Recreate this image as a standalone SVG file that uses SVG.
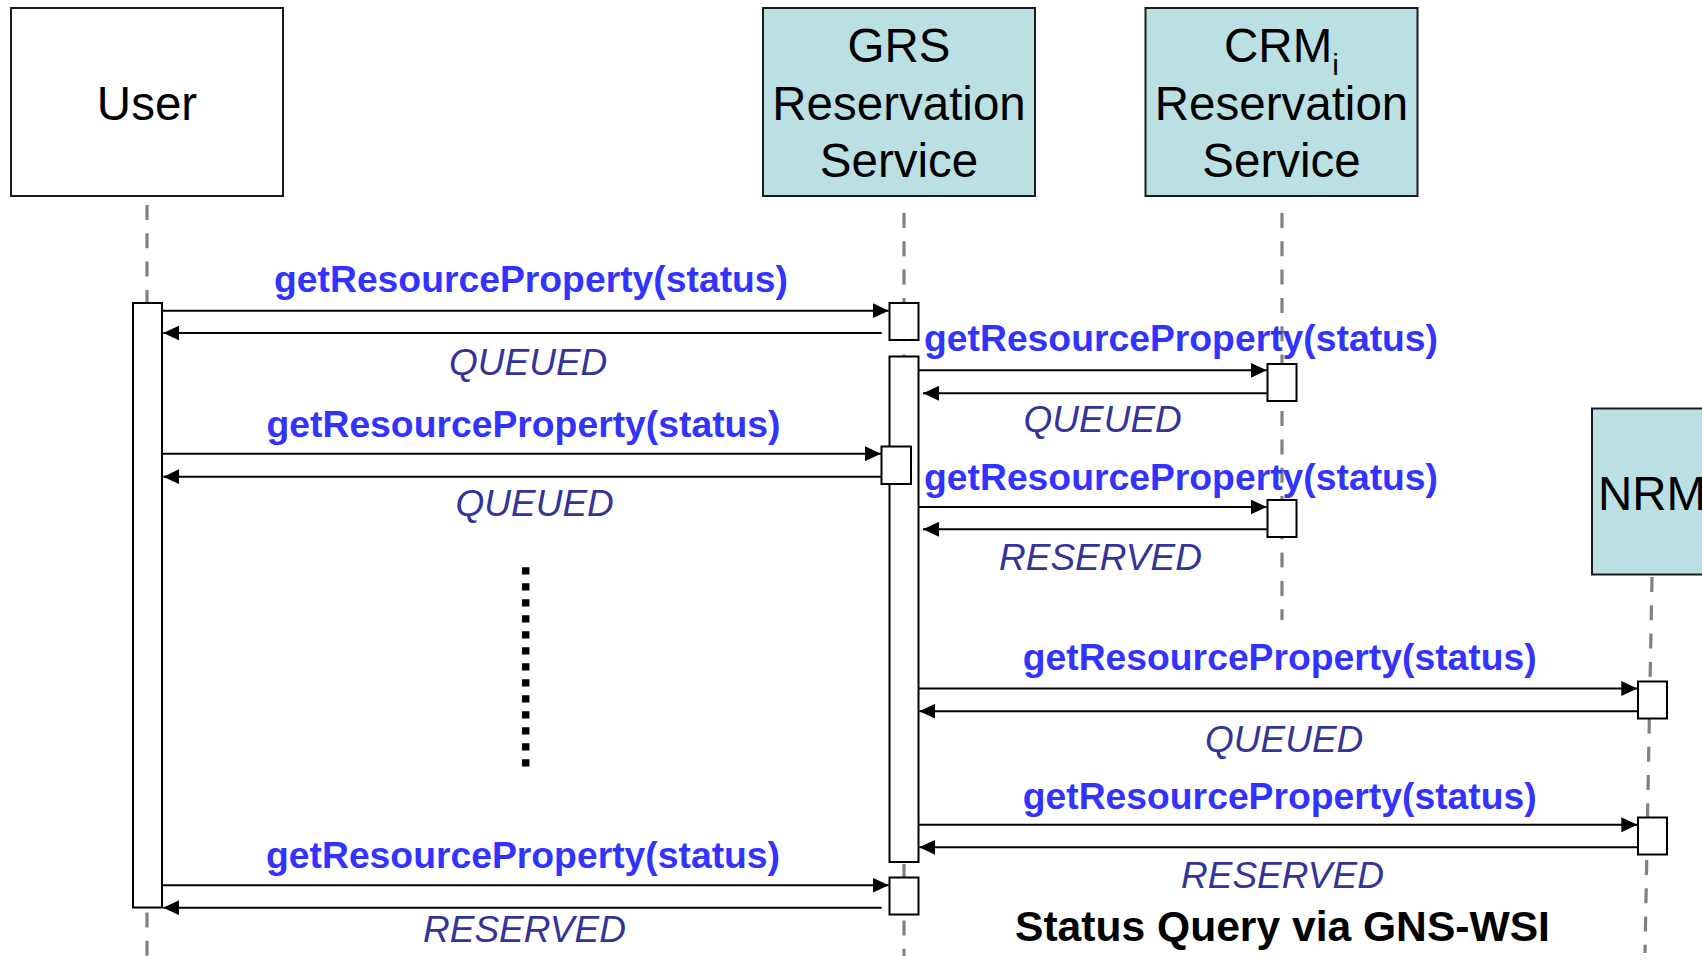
<svg xmlns="http://www.w3.org/2000/svg" width="1702" height="965" viewBox="0 0 1702 965">
<style>
.hdr{fill:#BBE0E3;stroke:#1a1a1a;stroke-width:2}
.usr{fill:#ffffff;stroke:#1a1a1a;stroke-width:2}
.act{fill:#ffffff;stroke:#000000;stroke-width:2}
.life{stroke:#808080;stroke-width:3.2;stroke-dasharray:15 13.3;fill:none}
.msg{stroke:#000000;stroke-width:2;fill:none}
.call{marker-end:url(#ah)}
.ret{marker-end:url(#ah)}
.ht{font-family:"Liberation Sans",Arial,sans-serif;font-size:47.5px;fill:#000000;text-anchor:middle}
.ml{font-family:"Liberation Sans",Arial,sans-serif;font-size:37.3px;font-weight:bold;fill:#3333FF}
.rl{font-family:"Liberation Sans",Arial,sans-serif;font-size:37px;font-style:italic;fill:#333399}
.title{font-family:"Liberation Sans",Arial,sans-serif;font-size:42.6px;font-weight:bold;fill:#000000}
</style>
<defs>
<marker id="ah" markerUnits="userSpaceOnUse" markerWidth="17" markerHeight="15" refX="16" refY="7.5" orient="auto">
<path d="M0,0 L16,7.5 L0,15 Z" fill="#000000"/>
</marker>
</defs>
<rect width="1702" height="965" fill="#ffffff"/>

<g id="lifelines">
<line class="life" x1="147" y1="205" x2="147" y2="965"/>
<line class="life" x1="904" y1="213" x2="904" y2="956"/>
<line class="life" x1="1282" y1="213" x2="1282" y2="620"/>
<line class="life" x1="1652" y1="577" x2="1645" y2="953"/>
</g>

<g id="user">
<rect class="usr" x="11" y="8" width="272" height="188"/>
<text class="ht" x="147" y="120">User</text>
</g>
<g id="grs">
<rect class="hdr" x="763" y="8" width="272" height="188"/>
<text class="ht" x="899" y="62">GRS</text>
<text class="ht" x="899" y="119.5">Reservation</text>
<text class="ht" x="899" y="177">Service</text>
</g>
<g id="crm">
<rect class="hdr" x="1145.5" y="8" width="272" height="188"/>
<text class="ht" x="1281.5" y="62">CRM<tspan font-size="30" dy="13">i</tspan></text>
<text class="ht" x="1281.5" y="119.5">Reservation</text>
<text class="ht" x="1281.5" y="177">Service</text>
</g>
<g id="nrm">
<rect class="hdr" x="1592" y="408.5" width="122" height="166"/>
<text class="ht" x="1652" y="510">NRM</text>
</g>

<g id="activations">
<rect class="act" x="133" y="303" width="29" height="604.5"/>
<rect class="act" x="889.5" y="303" width="29" height="37"/>
<rect class="act" x="889.5" y="356.5" width="29" height="505.5"/>
<rect class="act" x="881.5" y="446.5" width="29.5" height="37.5"/>
<rect class="act" x="889.5" y="877.5" width="29" height="37"/>
<rect class="act" x="1267.5" y="364" width="29" height="37"/>
<rect class="act" x="1267.5" y="500" width="29" height="37"/>
<rect class="act" x="1638" y="681.5" width="29" height="37"/>
<rect class="act" x="1638" y="817.5" width="29" height="37"/>
</g>

<g id="connectors">
<line class="msg call" x1="162" y1="310.7" x2="888.7" y2="310.7"/>
<line class="msg ret" x1="881.7" y1="333" x2="163.3" y2="333"/>
<line class="msg call" x1="162" y1="453.7" x2="881" y2="453.7"/>
<line class="msg ret" x1="881" y1="476.7" x2="163.3" y2="476.7"/>
<line class="msg call" x1="919" y1="370.3" x2="1266.7" y2="370.3"/>
<line class="msg ret" x1="1266.7" y1="393.3" x2="923" y2="393.3"/>
<line class="msg call" x1="919" y1="507" x2="1266.7" y2="507"/>
<line class="msg ret" x1="1266.7" y1="529.3" x2="923" y2="529.3"/>
<line class="msg call" x1="919" y1="688.5" x2="1637.3" y2="688.5"/>
<line class="msg ret" x1="1637.3" y1="711.2" x2="919.3" y2="711.2"/>
<line class="msg call" x1="919" y1="824.8" x2="1637.3" y2="824.8"/>
<line class="msg ret" x1="1637.3" y1="847.3" x2="919.3" y2="847.3"/>
<line class="msg call" x1="162" y1="885.2" x2="888.7" y2="885.2"/>
<line class="msg ret" x1="881.7" y1="907.7" x2="163.3" y2="907.7"/>
</g>

<g id="ellipsis">
<line x1="525.7" y1="567.3" x2="525.7" y2="767" stroke="#000000" stroke-width="7.5" stroke-dasharray="7.3 8.7"/>
</g>

<g id="labels">
<text class="ml" x="274" y="292">getResourceProperty(status)</text>
<text class="rl" x="449" y="375">QUEUED</text>
<text class="ml" x="266.5" y="436.7">getResourceProperty(status)</text>
<text class="rl" x="455.5" y="516">QUEUED</text>
<text class="ml" x="924" y="350.7">getResourceProperty(status)</text>
<text class="rl" x="1023.5" y="431.7">QUEUED</text>
<text class="ml" x="924" y="490">getResourceProperty(status)</text>
<text class="rl" x="999" y="569.5">RESERVED</text>
<text class="ml" x="1022.7" y="670">getResourceProperty(status)</text>
<text class="rl" x="1205" y="751.7">QUEUED</text>
<text class="ml" x="1022.7" y="809.3">getResourceProperty(status)</text>
<text class="rl" x="1181" y="888">RESERVED</text>
<text class="ml" x="266" y="868">getResourceProperty(status)</text>
<text class="rl" x="423" y="941.7">RESERVED</text>
<text class="title" x="1015" y="941">Status Query via GNS-WSI</text>
</g>
</svg>
